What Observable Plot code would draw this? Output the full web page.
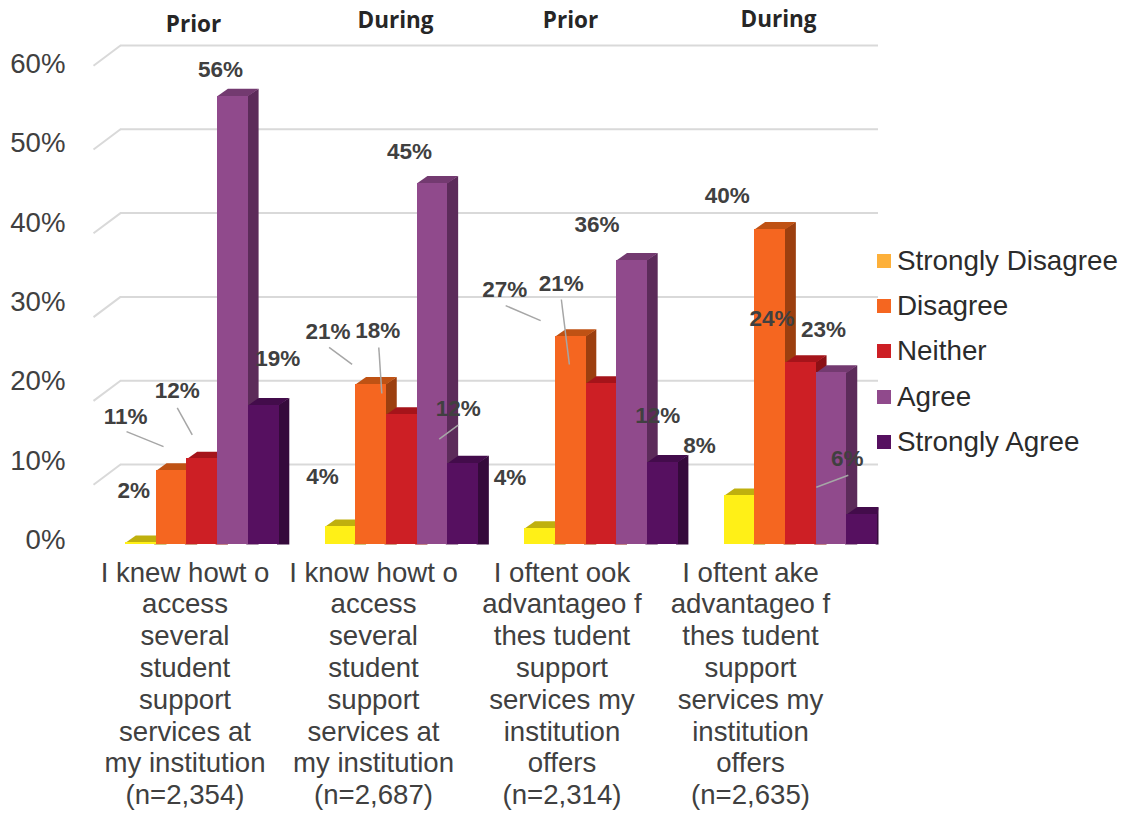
<!DOCTYPE html>
<html>
<head>
<meta charset="utf-8">
<script src="https://cdn.jsdelivr.net/npm/d3@7"></script>
<script src="https://cdn.jsdelivr.net/npm/@observablehq/plot@0.6"></script>
<style>
  html, body { margin: 0; padding: 0; background: #fff; }
  #chart { position: relative; width: 1125px; height: 813px; overflow: hidden; }
  #legend { position: absolute; left: 877px; top: 238px; font: 27.8px "Liberation Sans", Arial, sans-serif; color: #2b2b2b; }
  #legend div { height: 45.3px; display: flex; align-items: center; white-space: nowrap; }
  #legend i { display: inline-block; width: 14px; height: 14px; margin-right: 6px; }
</style>
</head>
<body>
<div id="chart"><div id="legend"></div></div>
<script>
// ---- data ----
const categories = ["Strongly Disagree", "Disagree", "Neither", "Agree", "Strongly Agree"];
const headers = ["Prior", "During", "Prior", "During"];
const questions = [
  "I knew howt o\naccess\nseveral\nstudent\nsupport\nservices at\nmy institution\n(n=2,354)",
  "I know howt o\naccess\nseveral\nstudent\nsupport\nservices at\nmy institution\n(n=2,687)",
  "I oftent ook\nadvantageo f\nthes tudent\nsupport\nservices my\ninstitution\noffers\n(n=2,314)",
  "I oftent ake\nadvantageo f\nthes tudent\nsupport\nservices my\ninstitution\noffers\n(n=2,635)"
];
const barHeights = [
  [2.0, 10.6, 12.0, 55.3, 18.4],
  [3.9, 20.9, 17.3, 44.9, 11.5],
  [3.7, 26.6, 21.0, 35.7, 11.6],
  [7.6, 39.4, 23.5, 22.3, 5.4]
];
const barLabels = [
  ["2%", "11%", "12%", "56%", "19%"],
  ["4%", "21%", "18%", "45%", "12%"],
  ["4%", "27%", "21%", "36%", "12%"],
  ["8%", "40%", "24%", "23%", "6%"]
];
const yTicks = [0, 10, 20, 30, 40, 50, 60];

// ---- layout (pixels) ----
const labelOffsets = [
  [[-7, -51.5], [-46, -54], [-25, -68], [-12.5, -26], [14, -47]],
  [[-18, -50], [-43, -53], [-24, -84], [-23, -31], [-5, -54.5]],
  [[-30, -51], [-66, -47], [-40, -100], [-35, -36], [-5, -46.5]],
  [[-40, -50], [-43, -34], [-29, -44], [-8, -43], [-15, -55]]
];
const leaders = [
  [0, 1, -45, -39, -8, -24],
  [0, 2, -25, -51, -10, -24],
  [1, 1, -42, -37, -19, -20],
  [1, 2, -23, -67, -20, -21],
  [1, 4, -5, -38, -24, -24],
  [2, 1, -65, -31, -30, -16],
  [2, 2, -40, -84, -32, -19],
  [3, 4, -14, -39, -46, -27]
];
const headerOffsets = [[193, 24], [395, 20], [570, 20], [778, 19]];
const frontColors = ["#fff017", "#f56620", "#cd1f25", "#904a8c", "#561060"];
const sideColors  = ["#9e9410", "#9c3f0f", "#8b1015", "#5c2b5a", "#350a3b"];
const topColors   = ["#bfb00e", "#bf5214", "#a5141a", "#733a70", "#430c4b"];
const legendColors = ["#fdb03a", "#f56620", "#cd1f25", "#904a8c", "#561060"];

const barPx = 30.7, unitPx = 8.38, groupStep = 6.5, originPx = 125, zeroPx = 559;
const xPx = px => (px - originPx) / barPx;      // pixel -> x units
const yPx = px => (zeroPx - px) / unitPx;       // pixel -> y units
const floorY = yPx(544), rightX = xPx(878);
const depthX = 10.3 / barPx, depthY = 7.3 / unitPx;
const overlap = 2 / barPx;                      // side face runs under the front face

const bars = barHeights.flatMap((row, g) => row.map((v, c) => {
  const x1 = g * groupStep + c;
  return {g, c, v, x1, x2: x1 + 1, cat: categories[c], label: barLabels[g][c], off: labelOffsets[g][c]};
}));

function barMarks(b) {
  const xr = Math.min(b.x2 + depthX, rightX);
  const xs = b.x2 - overlap;
  const side = [[xs, b.v - overlap], [xr, b.v + depthY], [xr, floorY], [xs, floorY]];
  const top = [[b.x1, b.v], [b.x1 + depthX, b.v + depthY], [xr, b.v + depthY], [b.x2, b.v]];
  return [
    Plot.line(side, {x: "0", y: "1", curve: "linear-closed", fill: sideColors[b.c], stroke: "none"}),
    Plot.line(top, {x: "0", y: "1", curve: "linear-closed", fill: topColors[b.c], stroke: "none"}),
    Plot.rect([b], {x1: "x1", x2: "x2", y1: floorY, y2: "v", fill: "cat", inset: 0, shapeRendering: "crispEdges"})
  ];
}

const gridTicks = yTicks.slice(1);
const backDy = 11.2 / unitPx, frontDy = 9 / unitPx;

const plot = Plot.plot({
  width: 1125,
  height: 813,
  margin: 0,
  style: {fontFamily: '"Liberation Sans", Arial, sans-serif', background: "#fff"},
  x: {domain: [xPx(0), xPx(1125)], range: [0, 1125], axis: null},
  y: {domain: [0, 60], range: [zeroPx, zeroPx - 60 * unitPx], axis: null},
  color: {domain: categories, range: frontColors},
  marks: [
    // back wall gridlines and their floor-side stubs
    Plot.ruleY(gridTicks, {y: d => d + backDy, x1: xPx(120), x2: rightX, stroke: "#d9d9d9", strokeWidth: 2}),
    Plot.link(gridTicks, {x1: xPx(93), y1: d => d - frontDy, x2: xPx(120), y2: d => d + backDy, stroke: "#d9d9d9", strokeWidth: 2}),
    // y tick labels
    Plot.text(yTicks, {
      x: xPx(65), y: d => yPx(540 - d * 7.945), text: d => d + "%",
      textAnchor: "end", fontSize: 27.6, fill: "#404040"
    }),
    // bars, left to right so each one covers its neighbour's side face
    ...bars.flatMap(barMarks),
    // leader lines
    Plot.link(leaders, {
      x1: ([g, c, a]) => g * groupStep + c + 0.5 + a / barPx,
      y1: ([g, c, , b]) => barHeights[g][c] - b / unitPx,
      x2: ([g, c, , , a]) => g * groupStep + c + 0.5 + a / barPx,
      y2: ([g, c, , , , b]) => barHeights[g][c] - b / unitPx,
      stroke: "#a6a6a6", strokeWidth: 1.5
    }),
    // value labels
    Plot.text(bars, {
      x: b => b.x1 + 0.5 + b.off[0] / barPx,
      y: b => b.v - b.off[1] / unitPx,
      text: "label", fontSize: 22.5, fontWeight: "bold", fill: "#404040"
    }),
    // question labels under the groups
    Plot.text(questions, {
      x: (d, i) => xPx(184.5) + i * 6.14,
      y: yPx(558.5),
      text: d => d,
      lineAnchor: "top", lineHeight: 1.152, fontSize: 27.6, fill: "#404040"
    }),
    // Prior / During headers
    Plot.text(headers, {
      x: (d, i) => xPx(headerOffsets[i][0]),
      y: (d, i) => yPx(headerOffsets[i][1]),
      text: d => d,
      fontFamily: '"Open Sans", sans-serif', fontWeight: 700, fontSize: 22.5, fill: "#262626"
    })
  ]
});
document.getElementById("chart").prepend(plot);

const legend = document.getElementById("legend");
categories.forEach((c, i) => {
  const row = document.createElement("div");
  const sw = document.createElement("i");
  sw.style.background = legendColors[i];
  row.append(sw, document.createTextNode(c));
  legend.append(row);
});
</script>
</body>
</html>
